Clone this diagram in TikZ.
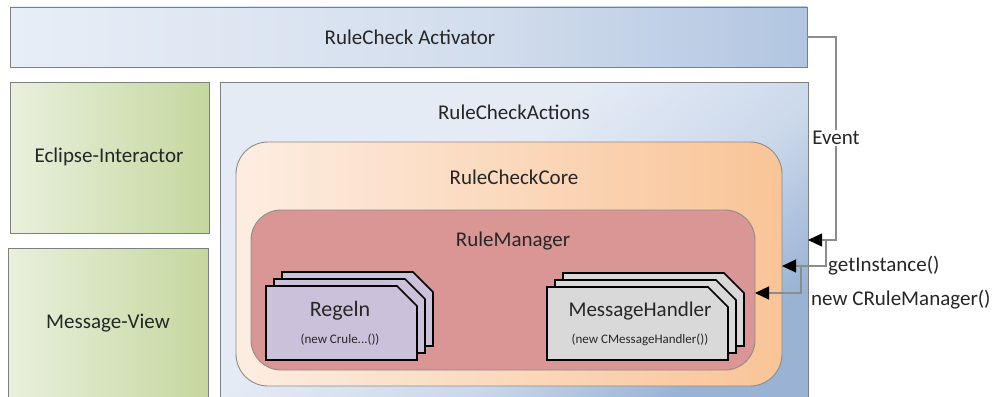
\documentclass[tikz,border=0pt]{standalone}
\usepackage{fontspec}
\setmainfont{Carlito}
\usetikzlibrary{arrows.meta}
\definecolor{bordc}{HTML}{7F7F7F}
\definecolor{connc}{HTML}{8C8C8C}
\definecolor{blueA}{HTML}{E8EEF7}
\definecolor{blueM}{HTML}{D2DDED}
\definecolor{blueB}{HTML}{B2C6E1}
\definecolor{blueC}{HTML}{E4EBF5}
\definecolor{blueN}{HTML}{CBD8EB}
\definecolor{blueD}{HTML}{9AB3D4}
\definecolor{greenA}{HTML}{E9F0DC}
\definecolor{greenB}{HTML}{C5D79F}
\definecolor{orA}{HTML}{FDEDE1}
\definecolor{orB}{HTML}{F9C497}
\definecolor{rmfill}{HTML}{D99694}
\definecolor{regfill}{HTML}{CCC1DA}
\definecolor{mhfill}{HTML}{D9D9D9}
\pgfdeclarehorizontalshading{barshade}{100bp}{color(0bp)=(blueA); color(25bp)=(blueA); color(55bp)=(blueM); color(75bp)=(blueB); color(100bp)=(blueB)}
\pgfdeclareverticalshading{actshade}{100bp}{color(0bp)=(blueD); color(25bp)=(blueD); color(40bp)=(blueN); color(58bp)=(blueC); color(100bp)=(blueC)}
\tikzset{
  big/.style={font=\fontsize{21}{25}\selectfont, text=black!85},
  small/.style={font=\fontsize{13}{15}\selectfont, text=black!85},
  box/.style={draw=bordc, line width=0.9pt, anchor=north west, inner sep=0pt, outer sep=0pt, big},
  conn/.style={draw=connc, line width=1.2pt, -{Triangle[length=14pt,width=13pt,color=black]}},
  pics/card/.style n args={3}{code={
    \path[draw=black, line width=1.6pt, fill=#3, line join=miter]
      (0,0) -- ({#1-20},0) -- (#1,20) -- (#1,#2) -- (0,#2) -- cycle;
  }}
}
\begin{document}
\begin{tikzpicture}[x=1pt,y=-1pt]
\useasboundingbox (0,0) rectangle (995,396);
% top bar
\node[box, minimum width=797pt, minimum height=60pt, shading=barshade, shading angle=0] (act) at (10,7) {};
\node[big] (actt) at (410,37) {RuleCheck Activator};
% green boxes
\node[box, minimum width=199pt, minimum height=151pt, left color=greenA, right color=greenB] (ecl) at (10,82) {};
\node[big] (eclt) at (109,157) {Eclipse-Interactor};
\node[box, minimum width=200pt, minimum height=154pt, left color=greenA, right color=greenB] (mv) at (8,248) {};
\node[big] (mvt) at (108,323) {Message-View};
% actions
\node[box, minimum width=588pt, minimum height=320pt, shading=actshade, shading angle=40] (actions) at (220,82) {};
\node[big] (actionst) at (514,112) {RuleCheckActions};
% core
\node[box, draw=bordc!90, rounded corners=32pt, minimum width=546pt, minimum height=244pt, left color=orA, right color=orB] (core) at (236,142) {};
\node[big] (coret) at (514,177) {RuleCheckCore};
% rule manager
\node[box, draw=bordc!90, rounded corners=30pt, minimum width=504pt, minimum height=160pt, fill=rmfill] (rm) at (251,210) {};
\node[big] (rmt) at (513,241) {RuleManager};
% cards: Regeln
\pic at (282,272) {card={151}{74}{regfill}};
\pic at (274,279) {card={151}{74}{regfill}};
\pic at (266,286) {card={151}{74}{regfill}};
\node[big, font=\fontsize{22}{26}\selectfont] (reg) at (340,311) {Regeln};
\node[small] (regs) at (340,340) {(new Crule...())};
% cards: MessageHandler
\pic at (563,273) {card={181}{73}{mhfill}};
\pic at (555,280) {card={181}{73}{mhfill}};
\pic at (547,287) {card={181}{73}{mhfill}};
\node[big] (mh) at (640,311) {MessageHandler};
\node[small] (mhs) at (640,340) {(new CMessageHandler())};
% connectors
\coordinate (ev) at (836,240);
\coordinate (gi) at (826,240);
\coordinate (gi2) at (826,266);
\coordinate (nc) at (801,266);
\coordinate (nc2) at (801,293);
\draw[conn] (act.east) -| (ev) -- (actions.east |- ev);
\draw[conn] (gi) -- (gi2) -- (core.east |- gi2);
\draw[conn] (nc) -- (nc2) -- (rm.east |- nc2);
\node[big, fill=white, inner sep=1pt] (evt) at (836,138) {Event};
\node[big, anchor=west, inner sep=0pt] (git) at (828,266) {getInstance()};
\node[big, anchor=west, inner sep=0pt] (nct) at (811,300) {new CRuleManager()};
\end{tikzpicture}
\end{document}
